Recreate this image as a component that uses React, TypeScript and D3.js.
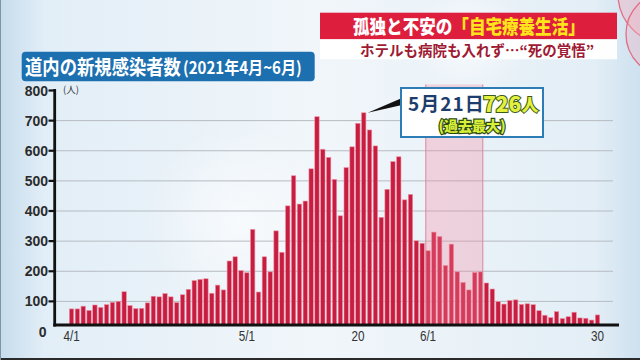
import React from 'react';
import * as d3 from 'd3';

const W = 640;
const H = 360;

// Daily new cases in Hokkaido, 2021-04-01 .. 2021-06-30
const cases = [
  75, 75, 84, 70, 88, 80, 89, 97, 100, 132,
  86, 76, 77, 95, 117, 115, 126, 115, 96, 122,
  140, 169, 173, 175, 127, 154, 138, 234, 248, 202,
  195, 339, 131, 248, 198, 334, 263, 417, 517, 423,
  433, 540, 713, 605, 578, 505, 384, 544, 613, 691,
  726, 669, 616, 379, 472, 564, 580, 437, 455, 301,
  293, 268, 330, 315, 219, 290, 198, 163, 138, 196,
  198, 161, 141, 99, 91, 103, 105, 90, 92, 89,
  69, 54, 46, 66, 43, 49, 64, 45, 44, 38,
  55,
];
const days = d3.timeDay.range(new Date(2021, 3, 1), new Date(2021, 6, 1));
const fmt = d3.timeFormat('%Y-%m-%d');
const dayKeys = days.map(fmt);

const yTicks = [0, 100, 200, 300, 400, 500, 600, 700, 800];
const gridTicks = [100, 200, 300, 400, 500, 600, 700];
const xTickDays = ['2021-04-01', '2021-05-01', '2021-05-20', '2021-06-01', '2021-06-30'];
const xTickLabels = ['4/1', '5/1', '20', '6/1', '30'];
const shadeFrom = '2021-06-01';
const shadeTo = '2021-06-10';

const titleMain = '道内の新規感染者数';
const titleSub = '(2021年4月~6月)';
const bannerWhite = '孤独と不安の';
const bannerYellow = '「自宅療養生活」';
const subtitle = 'ホテルも病院も入れず…“死の覚悟”';
const calloutDate = '5月21日';
const calloutValue = '726';
const calloutUnit = '人';
const calloutNote = '(過去最大)';
const unitLabel = '(人)';

const JP = "'Noto Sans CJK JP', 'Noto Sans', sans-serif";
const NUM = "'Liberation Sans', Arial, sans-serif";

export default function App() {
  const x = d3
    .scaleBand<number>()
    .domain(d3.range(cases.length))
    .range([68.6, 600.4])
    .paddingInner(0.25)
    .paddingOuter(0.125);
  const y = d3.scaleLinear().domain([0, 800]).range([331.5, 90.5]);
  const axisY = 325;
  const axisX = 54.7;
  const bw = x.bandwidth();

  const peak = d3.maxIndex(cases);
  const peakX = (x(peak) as number) + bw / 2;
  const peakY = y(cases[peak]);

  const s0 = dayKeys.indexOf(shadeFrom);
  const s1 = dayKeys.indexOf(shadeTo);
  const shadeX0 = x(s0) as number;
  const shadeX1 = (x(s1) as number) + bw;

  return (
    <svg
      width={W}
      height={H}
      viewBox={`0 0 ${W} ${H}`}
      style={{ position: 'fixed', left: 0, top: 0 }}
    >
      <defs>
        <linearGradient id="bg" x1="0" y1="0" x2="1" y2="0">
          <stop offset="0" stopColor="#c6dcec" />
          <stop offset="0.07" stopColor="#e2eef7" />
          <stop offset="0.5" stopColor="#f1f6fa" />
          <stop offset="0.93" stopColor="#e3eef6" />
          <stop offset="1" stopColor="#cde1ef" />
        </linearGradient>
        <radialGradient id="blob">
          <stop offset="0" stopColor="#ffffff" stopOpacity="0.6" />
          <stop offset="1" stopColor="#ffffff" stopOpacity="0" />
        </radialGradient>
      </defs>
      <rect x={0} y={0} width={W} height={H} fill="url(#bg)" />
      <circle cx={240} cy={220} r={95} fill="url(#blob)" />
      <circle cx={470} cy={40} r={60} fill="url(#blob)" />

      {/* decorative circles top-right */}
      <circle cx={668} cy={-6} r={50} fill="#f3b3c0" fillOpacity={0.45} stroke="#e46d86" strokeWidth={1.3} />
      <circle cx={668} cy={34} r={42} fill="#f3b3c0" fillOpacity={0.35} stroke="#e46d86" strokeWidth={1.3} />

      {/* gridlines */}
      {gridTicks.map((t) => (
        <line key={t} x1={axisX + 1} x2={613} y1={y(t)} y2={y(t)} stroke="#b6bbc1" strokeWidth={1} />
      ))}

      {/* bars */}
      {cases.map((v, i) => (
        <rect
          key={i}
          x={x(i) as number}
          y={y(v)}
          width={bw}
          height={axisY - y(v)}
          fill="#c71d40"
          stroke="#ef90a4"
          strokeWidth={0.6}
        />
      ))}

      {/* shaded period */}
      <rect
        x={shadeX0}
        y={y(820)}
        width={shadeX1 - shadeX0}
        height={axisY - y(820)}
        fill="#f4849a"
        fillOpacity={0.3}
      />
      <line x1={shadeX0} x2={shadeX0} y1={y(820)} y2={axisY} stroke="#d9889a" strokeWidth={1} />
      <line x1={shadeX1} x2={shadeX1} y1={y(820)} y2={axisY} stroke="#d9889a" strokeWidth={1} />

      {/* axes */}
      <line x1={axisX} x2={axisX} y1={89} y2={axisY + 1.5} stroke="#111" strokeWidth={2.8} />
      <line x1={axisX - 1.4} x2={619} y1={axisY} y2={axisY} stroke="#111" strokeWidth={3} />
      {yTicks.map((t) => (
        <g key={t}>
          {t > 0 && (
            <line x1={48.5} x2={axisX} y1={y(t)} y2={y(t)} stroke="#111" strokeWidth={2.2} />
          )}
          <text
            x={t > 0 ? 48 : 46.5}
            y={y(t)}
            dy="0.36em"
            textAnchor="end"
            fontFamily={NUM}
            fontWeight="bold"
            fontSize={14}
            fill="#2b2b2b"
          >
            {t}
          </text>
        </g>
      ))}
      <text x={63} y={93} fontFamily={JP} fontSize={9.5} fill="#333">
        {unitLabel}
      </text>
      {xTickDays.map((d, k) => {
        const i = dayKeys.indexOf(d);
        const cx = (x(i) as number) + bw / 2;
        return (
          <text
            key={d}
            transform={`translate(${cx},341) scale(0.78,1)`}
            textAnchor="middle"
            fontFamily={NUM}
            fontSize={15}
            fill="#333"
          >
            {xTickLabels[k]}
          </text>
        );
      })}

      {/* callout */}
      <polygon points={`${peakX + 4},${peakY} 402,98 402,105`} fill="#111" />
      <rect x={401} y={88} width={142} height={49} fill="#ffffff" stroke="#2c7db6" strokeWidth={2} />
      <text
        x={408}
        y={111}
        fontFamily={JP}
        fontWeight="bold"
        fontSize={19}
        fill="#1d3d6c"
        letterSpacing={1}
      >
        {calloutDate}
      </text>
      <text
        x={483}
        y={112}
        fontFamily={JP}
        fontWeight="900"
        fill="#e4f03e"
        stroke="#3b5a17"
        strokeWidth={2}
        style={{ paintOrder: 'stroke' }}
      >
        <tspan fontSize={21}>{calloutValue}</tspan>
        <tspan fontSize={17} dy={-1}>{calloutUnit}</tspan>
      </text>
      <text
        x={472}
        y={131}
        textAnchor="middle"
        fontFamily={JP}
        fontWeight="900"
        fontSize={14}
        fill="#d9ee3a"
        stroke="#2b4a12"
        strokeWidth={2.4}
        style={{ paintOrder: 'stroke' }}
      >
        {calloutNote}
      </text>

      {/* title */}
      <rect x={21.7} y={51.7} width={293} height={29.5} rx={4} fill="#1d70b0" />
      <text
        transform="translate(25,74.5) scale(0.846,1)"
        fontFamily={JP}
        fontWeight="bold"
        fontSize={20.5}
        fill="#ffffff"
      >
        {titleMain}
      </text>
      <text
        transform="translate(183,74) scale(0.885,1)"
        fontFamily={JP}
        fontWeight="bold"
        fontSize={17}
        fill="#ffffff"
      >
        {titleSub}
      </text>

      {/* banner */}
      <rect x={320} y={12.7} width={297} height={26.6} fill="#dd1f3d" />
      <rect x={320} y={39.3} width={297} height={20} fill="#ffffff" fillOpacity={0.95} />
      <text
        transform="translate(353,34) scale(0.872,1)"
        fontFamily={JP}
        fontWeight="900"
        fontSize={19}
      >
        <tspan fill="#ffffff">{bannerWhite}</tspan>
        <tspan fill="#ffe41c">{bannerYellow}</tspan>
      </text>
      <text
        transform="translate(360,56) scale(1,1)"
        fontFamily={JP}
        fontWeight="bold"
        fontSize={14.5}
        fill="#9e1b33"
      >
        {subtitle}
      </text>

      {/* frame */}
      <line x1={0} x2={W} y1={359} y2={359} stroke="#2a2a2a" strokeWidth={2} />
      <line x1={0.5} x2={0.5} y1={0} y2={H} stroke="#8193a1" strokeWidth={1} />
    </svg>
  );
}
